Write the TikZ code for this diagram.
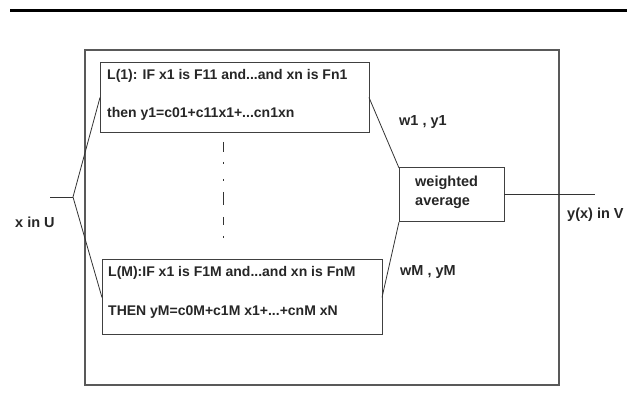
\documentclass[tikz,border=0pt]{standalone}
\usepackage{fontspec}
\setmainfont{Liberation Sans}
\begin{document}
\begin{tikzpicture}[x=1pt,y=-1pt,
  frame/.style={draw=black!65,line width=1.2pt},
  rulebox/.style={draw=black!75,line width=1pt},
  conn/.style={draw=black!80,line width=0.8pt},
  lbl/.style={font=\bfseries\fontsize{14.5}{16}\selectfont,text=black!85,inner sep=0pt,anchor=west},
  rlbl/.style={lbl,font=\bfseries\fontsize{14}{16}\selectfont},
]
\useasboundingbox (0,0) rectangle (627,419);
% top rule
\draw[line width=3pt] (10,11) -- (627,11);
% outer frame
\draw[frame] (85,50) rectangle (559,385);
% rule boxes
\draw[rulebox] (100,62.5) rectangle (369,133);
\draw[rulebox] (102,260) rectangle (382,335);
\draw[rulebox] (399,168) rectangle (504,222);
\coordinate (r1) at (369,97.5);
\coordinate (r1l) at (100,97.5);
\coordinate (rM) at (382,297.5);
\coordinate (rMl) at (102,297.5);
\coordinate (wtl) at (399,168);
\coordinate (wbl) at (399,222);
\coordinate (wr) at (504,194);
\coordinate (out) at (595,194);
\coordinate (in) at (50,197);
\coordinate (fork) at (73,197);
\coordinate (d1) at (223,142);
\coordinate (d2) at (223,240);
% texts
\node[rlbl] (t1a) at (107,76) {L(1): IF x1 is F11 and...and xn is Fn1};
\node[rlbl] (t1b) at (107,114) {then y1=c01+c11x1+...cn1xn};
\node[rlbl] (tMa) at (108,273) {L(M):IF x1 is F1M and...and xn is FnM};
\node[rlbl] (tMb) at (108,312) {THEN yM=c0M+c1M x1+...+cnM xN};
\node[lbl] (wa) at (415,183) {weighted};
\node[lbl] (wb) at (415,203) {average};
\node[lbl] (w1) at (399,122) {w1 , y1};
\node[lbl] (wM) at (400,272) {wM , yM};
\node[lbl] (xu) at (15,222) {x in U};
\node[lbl] (yv) at (567,215) {y(x) in V};
% connectors
\draw[conn] (in) -- (fork);
\draw[conn] (fork) -- (r1l);
\draw[conn] (fork) -- (rMl);
\draw[conn] (r1) -- (wtl);
\draw[conn] (rM) -- (wbl);
\draw[conn] (wr) -- (out);
\draw[conn,line width=1pt,dash pattern=on 10pt off 10pt on 2pt off 15pt on 2pt off 11pt on 13pt off 12pt on 8pt off 11pt on 2pt off 20pt] (d1) -- (d2);
\end{tikzpicture}
\end{document}
